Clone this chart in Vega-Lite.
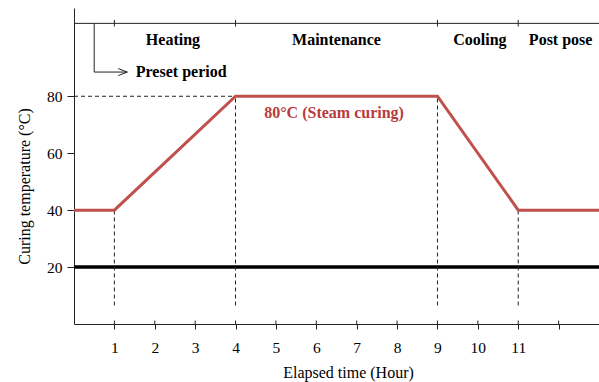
{
  "$schema": "https://vega.github.io/schema/vega-lite/v6.json",
  "width": 525,
  "height": 316,
  "autosize": "none",
  "padding": {"left": 74, "top": 8, "right": 0, "bottom": 58},
  "config": {
    "view": {"stroke": null},
    "font": "Liberation Serif",
    "axis": {"grid": false, "domainColor": "#222", "tickColor": "#222", "labelColor": "#000", "titleColor": "#000", "labelFont": "Liberation Serif", "titleFont": "Liberation Serif", "titleFontWeight": "normal"}
  },
  "datasets": {
    "curve": [
      {"hour": 0, "temp": 40},
      {"hour": 1, "temp": 40},
      {"hour": 4, "temp": 80},
      {"hour": 9, "temp": 80},
      {"hour": 11, "temp": 40},
      {"hour": 13, "temp": 40}
    ],
    "vdash": [
      {"hour": 1, "lo": 6.5, "hi": 40},
      {"hour": 4, "lo": 6.5, "hi": 80},
      {"hour": 9, "lo": 6.5, "hi": 80},
      {"hour": 11, "lo": 6.5, "hi": 40}
    ],
    "phases": [
      {"hour": 2.45, "label": "Heating"},
      {"hour": 6.5, "label": "Maintenance"},
      {"hour": 10.05, "label": "Cooling"},
      {"hour": 12.05, "label": "Post pose"}
    ],
    "topticks": [{"hour": 1}, {"hour": 4}, {"hour": 9}, {"hour": 11}],
    "bottomticks": [{"hour": 1}, {"hour": 2}, {"hour": 3}, {"hour": 4}, {"hour": 5}, {"hour": 6}, {"hour": 7}, {"hour": 8}, {"hour": 9}, {"hour": 10}, {"hour": 11}, {"hour": 12}]
  },
  "layer": [
    {
      "data": {"values": [{"temp": 20}]},
      "mark": {"type": "rule", "color": "#000", "strokeWidth": 3.5},
      "encoding": {"y": {"field": "temp", "type": "quantitative"}}
    },
    {
      "data": {"values": [{"temp": 105.6}]},
      "mark": {"type": "rule", "color": "#222", "strokeWidth": 1},
      "encoding": {"y": {"field": "temp", "type": "quantitative"}}
    },
    {
      "data": {"name": "topticks"},
      "mark": {"type": "rule", "color": "#222", "strokeWidth": 1},
      "encoding": {
        "x": {"field": "hour", "type": "quantitative"},
        "y": {"datum": 104.5, "type": "quantitative"},
        "y2": {"datum": 106.8}
      }
    },
    {
      "data": {"name": "bottomticks"},
      "mark": {"type": "rule", "color": "#222", "strokeWidth": 1},
      "encoding": {
        "x": {"field": "hour", "type": "quantitative"},
        "y": {"datum": 0, "type": "quantitative"},
        "y2": {"datum": 1.2}
      }
    },
    {
      "data": {"name": "vdash"},
      "mark": {"type": "rule", "color": "#222", "strokeWidth": 1, "strokeDash": [4, 3]},
      "encoding": {
        "x": {"field": "hour", "type": "quantitative"},
        "y": {"field": "lo", "type": "quantitative"},
        "y2": {"field": "hi"}
      }
    },
    {
      "data": {"values": [{"x0": 0, "x1": 4, "temp": 80}]},
      "mark": {"type": "rule", "color": "#222", "strokeWidth": 1, "strokeDash": [4, 3]},
      "encoding": {
        "x": {"field": "x0", "type": "quantitative"},
        "x2": {"field": "x1"},
        "y": {"field": "temp", "type": "quantitative"}
      }
    },
    {
      "data": {"name": "curve"},
      "mark": {"type": "line", "color": "#c0504d", "strokeWidth": 3},
      "encoding": {
        "x": {
          "field": "hour", "type": "quantitative",
          "scale": {"domain": [0, 13], "nice": false},
          "axis": {
            "values": [1, 2, 3, 4, 5, 6, 7, 8, 9, 10, 11, 12],
            "labelExpr": "datum.value == 12 ? '' : datum.label",
            "tickSize": 5, "labelPadding": 11, "labelFontSize": 15.5,
            "title": "Elapsed time (Hour)", "titleFontSize": 16,
            "titleX": 274, "titleY": 48, "titleBaseline": "middle", "titleAnchor": null
          }
        },
        "y": {
          "field": "temp", "type": "quantitative",
          "scale": {"domain": [0, 111], "nice": false},
          "axis": {
            "values": [20, 40, 60, 80],
            "tickSize": 7, "labelPadding": 5, "labelFontSize": 15.5,
            "title": "Curing temperature (\u00b0C)", "titleFontSize": 16,
            "titleX": -50, "titleY": 178, "titleBaseline": "middle", "titleAngle": -90
          }
        }
      }
    },
    {
      "data": {"name": "phases"},
      "mark": {"type": "text", "fontWeight": "bold", "fontSize": 16, "color": "#000", "baseline": "middle"},
      "encoding": {
        "x": {"field": "hour", "type": "quantitative"},
        "y": {"datum": 99.8, "type": "quantitative"},
        "text": {"field": "label"}
      }
    },
    {
      "data": {"values": [{"x0": 0.5, "y0": 105.6, "y1": 88.5}]},
      "mark": {"type": "rule", "color": "#222", "strokeWidth": 1},
      "encoding": {
        "x": {"field": "x0", "type": "quantitative"},
        "y": {"field": "y0", "type": "quantitative"},
        "y2": {"field": "y1"}
      }
    },
    {
      "data": {"values": [{"x0": 0.5, "x1": 1.32, "temp": 88.5}]},
      "mark": {"type": "rule", "color": "#222", "strokeWidth": 1},
      "encoding": {
        "x": {"field": "x0", "type": "quantitative"},
        "x2": {"field": "x1"},
        "y": {"field": "temp", "type": "quantitative"}
      }
    },
    {
      "data": {"values": [{"hour": 1.32, "temp": 88.5}]},
      "mark": {"type": "point", "shape": "M-9,-3.5L0,0L-9,3.5", "filled": false, "stroke": "#222", "strokeWidth": 1, "size": 4, "opacity": 1},
      "encoding": {
        "x": {"field": "hour", "type": "quantitative"},
        "y": {"field": "temp", "type": "quantitative"}
      }
    },
    {
      "data": {"values": [{"hour": 1.53, "temp": 88.5, "label": "Preset period"}]},
      "mark": {"type": "text", "fontWeight": "bold", "fontSize": 16, "color": "#000", "align": "left", "baseline": "middle"},
      "encoding": {
        "x": {"field": "hour", "type": "quantitative"},
        "y": {"field": "temp", "type": "quantitative"},
        "text": {"field": "label"}
      }
    },
    {
      "data": {"values": [{"hour": 6.44, "temp": 74.2, "label": "80\u00b0C (Steam curing)"}]},
      "mark": {"type": "text", "fontWeight": "bold", "fontSize": 16, "color": "#b83b3b", "baseline": "middle"},
      "encoding": {
        "x": {"field": "hour", "type": "quantitative"},
        "y": {"field": "temp", "type": "quantitative"},
        "text": {"field": "label"}
      }
    }
  ]
}
